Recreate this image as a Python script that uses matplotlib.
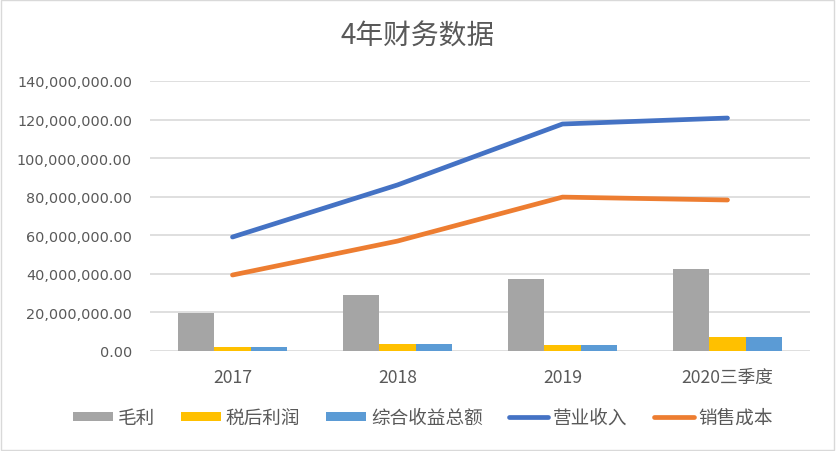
import matplotlib
matplotlib.use("Agg")
import matplotlib.pyplot as plt
from matplotlib.ticker import FuncFormatter, MultipleLocator
from matplotlib.patches import Rectangle
import numpy as np

plt.rcParams['font.family'] = ['Noto Sans CJK SC', 'DejaVu Sans']

categories = ['2017', '2018', '2019', '2020三季度']
gross_profit = [19.7e6, 29.0e6, 37.3e6, 42.5e6]
net_profit = [2.0e6, 3.8e6, 3.3e6, 7.3e6]
total_income = [2.0e6, 3.8e6, 3.3e6, 7.3e6]
revenue = [59.1e6, 86.1e6, 117.7e6, 120.8e6]
cost = [39.4e6, 57.0e6, 79.8e6, 78.3e6]

bar_names = ['毛利', '税后利润', '综合收益总额']
line_names = ['营业收入', '销售成本']
bar_colors = ['#A5A5A5', '#FFC000', '#5B9BD5']
line_colors = ['#4472C4', '#ED7D31']

fig = plt.figure(figsize=(8.36, 4.52), dpi=100)
ax = fig.add_axes([150/836, 1-352/452, 660/836, 270/452])

x = np.arange(len(categories))
w = 0.222
for i, (vals, c, n) in enumerate(zip([gross_profit, net_profit, total_income], bar_colors, bar_names)):
    ax.bar(x + (i-1)*w, vals, width=w, color=c, label=n, zorder=2)
for vals, c, n in zip([revenue, cost], line_colors, line_names):
    ax.plot(x, vals, color=c, lw=3.4, label=n, zorder=3, solid_capstyle='round')

ax.set_xlim(-0.5, 3.5)
ax.set_ylim(0, 140e6)
ax.yaxis.set_major_locator(MultipleLocator(20e6))
ax.yaxis.set_major_formatter(FuncFormatter(lambda v, p: f'{v:,.2f}'))
ax.set_xticks(x)
ax.set_xticklabels(categories)
ax.grid(axis='y', color='#D9D9D9', lw=1.2, zorder=0)
ax.set_axisbelow(True)
for s in ax.spines.values():
    s.set_visible(False)
ax.tick_params(axis='both', length=0, colors='#595959')
ax.tick_params(axis='x', pad=12)
ax.tick_params(axis='y', pad=13)
for t in ax.get_yticklabels():
    t.set_family(['DejaVu Sans', 'Noto Sans CJK SC'])
    t.set_fontsize(10.4)
for t in ax.get_xticklabels():
    t.set_family(['Noto Sans CJK SC', 'DejaVu Sans'])
    t.set_fontsize(12.7)

fig.text(0.5, 1-36.5/452, '4年财务数据', ha='center', va='center', fontsize=20,
         color='#595959', fontweight='light')

h, l = ax.get_legend_handles_labels()
handles = h[2:] + h[:2]
labels = l[2:] + l[:2]
leg = fig.legend(handles, labels, loc='center', bbox_to_anchor=(0.506, 1-419/452), ncol=5, frameon=False,
                 prop={'size': 13.4, 'weight': 'light'}, labelcolor='#595959',
                 handlelength=2.13, handleheight=0.37, handletextpad=0.27, columnspacing=1.4)

fig.add_artist(Rectangle((0.001, 0.002), 0.997, 0.996, transform=fig.transFigure, fill=False,
                         edgecolor='#D9D9D9', lw=1))

fig.savefig('out.png', dpi=100)
